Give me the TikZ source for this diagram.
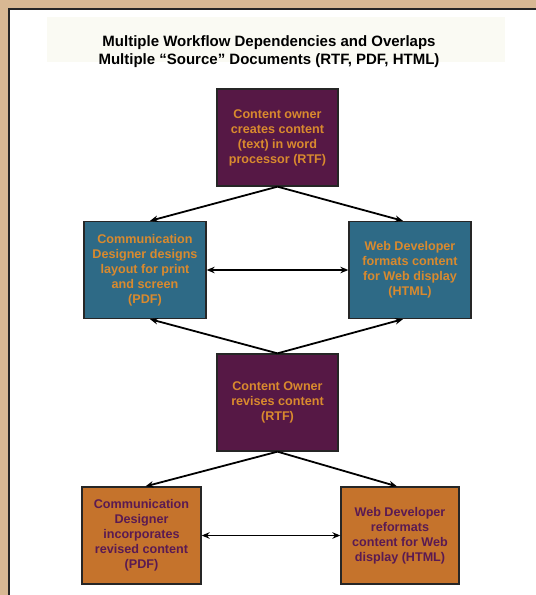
\documentclass[tikz,border=0pt]{standalone}
\usepackage{fontspec}
\setmainfont{Liberation Sans}
\usetikzlibrary{arrows.meta,calc}
\definecolor{tan}{HTML}{D8B893}
\definecolor{plum}{HTML}{561845}
\definecolor{teal}{HTML}{2E6A86}
\definecolor{ochre}{HTML}{C5732C}
\definecolor{otext}{HTML}{D98A2E}
\definecolor{ptext}{HTML}{5A1A52}
\definecolor{band}{HTML}{FAFAF3}
\tikzset{
  box/.style={draw=black!85, line width=1.3pt, minimum width=#1, minimum height=97pt, inner sep=0pt, align=center, font=\bfseries\fontsize{12.6}{15}\selectfont},
  purplebox/.style={box=121pt, fill=plum, text=otext},
  tealbox/.style={box=122pt, fill=teal, text=otext},
  orangebox/.style={box=118pt, fill=ochre, text=ptext},
  arr/.style={line width=1.8pt, -{Stealth[length=8pt,width=6.5pt]}},
  darr/.style={line width=1.8pt, {Stealth[length=8pt,width=6.5pt]}-{Stealth[length=8pt,width=6.5pt]}}
}
\begin{document}
\begin{tikzpicture}[x=1pt,y=-1pt]
\useasboundingbox (0,0) rectangle (536,595);
\fill[tan] (0,0) rectangle (536,595);
\fill[white] (8.75,8.75) rectangle (540,600);
\draw[black!85, line width=2.5pt] (8.75,600) -- (8.75,8.75) -- (540,8.75);
\fill[band] (47,17) rectangle (505,62);
\node[font=\bfseries\fontsize{15}{18}\selectfont, align=center] (title) at (269,51.5) {Multiple Workflow Dependencies and Overlaps\\Multiple “Source” Documents (RTF, PDF, HTML)};

\node[purplebox] (t) at (277.5,137.5) {Content owner\\creates content\\(text) in word\\processor (RTF)};
\node[tealbox] (l) at (145,270) {Communication\\Designer designs\\layout for print\\and screen\\(PDF)};
\node[tealbox] (r) at (410,270) {Web Developer\\formats content\\for Web display\\(HTML)};
\node[purplebox] (c) at (277.5,402.5) {Content Owner\\revises content\\(RTF)};
\node[orangebox, minimum width=119pt] (bl) at (141.5,535.5) {Communication\\Designer\\incorporates\\revised content\\(PDF)};
\node[orangebox] (br) at (400,535.5) {Web Developer\\reformats\\content for Web\\display (HTML)};

\draw[arr] (t.south) -- ($(l.north)+(5,0)$);
\draw[arr] (t.south) -- ($(r.north)+(-7,0)$);
\draw[darr] (l.east) -- (r.west);
\draw[arr] (c.north) -- ($(l.south)+(5,0)$);
\draw[arr] (c.north) -- ($(r.south)+(-7,0)$);
\draw[arr] (c.south) -- ($(bl.north)+(4,0)$);
\draw[arr] (c.south) -- ($(br.north)+(-3,0)$);
\draw[darr] (bl.east) -- (br.west);
\end{tikzpicture}
\end{document}
